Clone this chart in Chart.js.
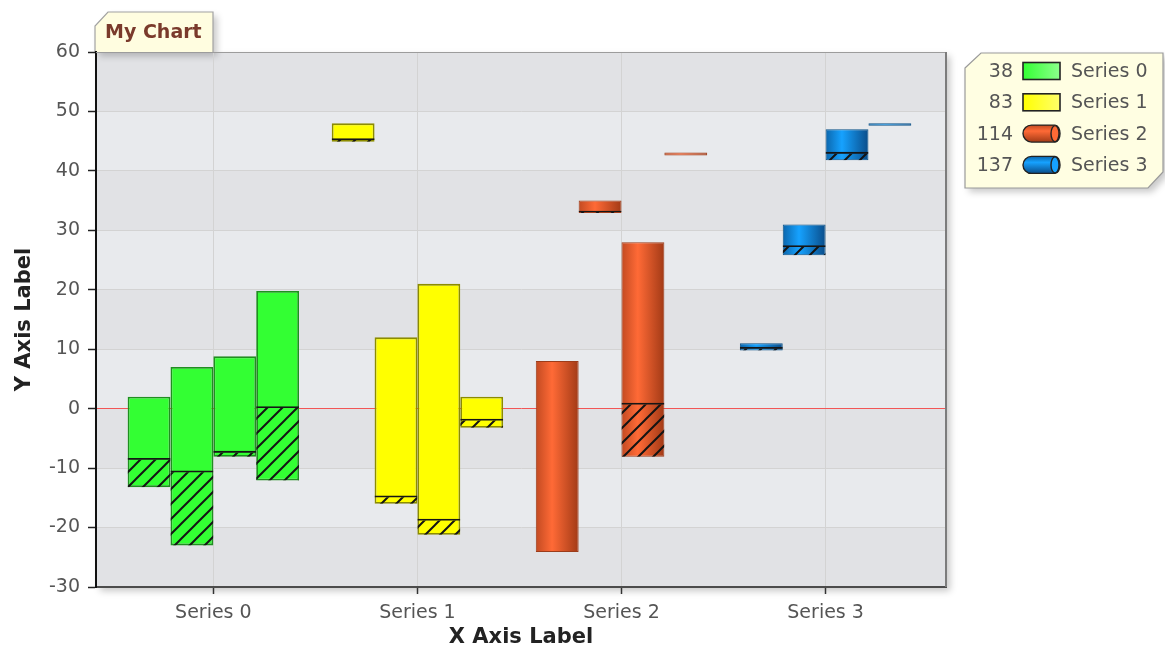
<!DOCTYPE html>
<html>
<head>
<meta charset="utf-8">
<title>My Chart</title>
<script src="https://cdn.jsdelivr.net/npm/chart.js@4/dist/chart.umd.min.js"></script>
<style>
  html, body { margin: 0; padding: 0; background: #ffffff; }
  #wrap { position: relative; width: 1165px; height: 645px; }
</style>
</head>
<body>
<div id="wrap"><canvas id="chart" width="1165" height="645"></canvas></div>
<script>
// ---- data -------------------------------------------------------------
const categories = ['Series 0', 'Series 1', 'Series 2', 'Series 3'];
// four elements per series: where each range starts, where it ends,
// and how far the completed (hatched) part reaches from the start
const rangeStart = [
  [-13.2, -23.0, -8.1, -12.1],
  [44.9, -16.0, -21.2, -3.2],
  [-24.1, 32.9, -8.1, 42.6],
  [9.8, 25.8, 41.8, 47.6]
];
const rangeEnd = [
  [2, 7, 8.8, 19.8],
  [48, 12, 21, 2],
  [8, 35, 28, 43.1],
  [11, 31, 47, 48]
];
const completeTo = [
  [-8.3, -10.4, -7.1, 0.4],
  [45.5, -14.6, -18.5, -1.7],
  [null, 33.3, 1.0, null],
  [10.4, 27.5, 43.2, null]
];
const yMin = -30, yMax = 60, yStep = 10;

// ---- look -------------------------------------------------------------
const seriesFill = ['#33ff33', '#ffff00', '#ff6633', '#0099ff'];
const seriesEdge = ['#1f8f1f', '#8c8c00', '#9c3c1a', '#0b5288'];
const cylinderStops = [null, null, ['#c24a22', '#ff6a36', '#a23a16'], ['#0b66ac', '#16a2ff', '#0a4d8a']];
const FONT = "'DejaVu Sans', Verdana, sans-serif";

Chart.defaults.font.family = FONT;
Chart.defaults.font.size = 19;
Chart.defaults.color = '#555555';

const canvas = document.getElementById('chart');
const mainCtx = canvas.getContext('2d');

// diagonal hatch used for the completed part of each range
const hatch = (() => {
  const s = 15;
  const c = document.createElement('canvas');
  c.width = s; c.height = s;
  const g = c.getContext('2d');
  g.strokeStyle = '#141414';
  g.lineWidth = 2;
  g.beginPath();
  g.moveTo(0, s); g.lineTo(s, 0);
  g.moveTo(-3, 3); g.lineTo(3, -3);
  g.moveTo(s - 3, s + 3); g.lineTo(s + 3, s - 3);
  g.stroke();
  return mainCtx.createPattern(c, 'repeat');
})();

// ---- datasets: one slot per element, range bar + hatched overlay -------
const slots = [0, 1, 2, 3];
const datasets = [];
slots.forEach(j => {
  datasets.push({
    label: 'Element ' + j,
    role: 'range',
    stack: 'slot' + j,
    order: 2,
    data: categories.map((c, i) => ({ x: i, y: [rangeStart[i][j], rangeEnd[i][j]] })),
    backgroundColor: seriesFill,
    borderColor: seriesEdge,
    borderWidth: categories.map((c, i) => cylinderStops[i] ? 1 : 1.8),
    borderSkipped: false
  });
});
slots.forEach(j => {
  datasets.push({
    label: 'Complete ' + j,
    role: 'complete',
    stack: 'slot' + j,
    order: 1,
    data: categories.map((c, i) => ({
      x: i,
      y: completeTo[i][j] == null ? null : [rangeStart[i][j], completeTo[i][j]]
    })),
    backgroundColor: hatch,
    borderColor: '#161616',
    borderWidth: { top: 1.8, left: 0, right: 0, bottom: 0 },
    borderSkipped: false
  });
});

// ---- plugins ------------------------------------------------------------
function shadowed(ctx, fn) {
  ctx.save();
  ctx.shadowColor = 'rgba(0,0,0,0.22)';
  ctx.shadowBlur = 7;
  ctx.shadowOffsetX = 4;
  ctx.shadowOffsetY = 4;
  fn();
  ctx.restore();
}

const plotFrame = {
  id: 'plotFrame',
  beforeDraw(chart) {
    const { ctx, chartArea: a } = chart;
    // plot background with soft drop shadow
    shadowed(ctx, () => {
      ctx.fillStyle = '#e5e7ea';
      ctx.fillRect(a.left, a.top, a.right - a.left, a.bottom - a.top);
    });
    // alternating horizontal bands between y ticks
    const ys = chart.scales.y;
    const t = ys.ticks;
    for (let k = 0; k < t.length - 1; k++) {
      const p0 = ys.getPixelForValue(t[k].value);
      const p1 = ys.getPixelForValue(t[k + 1].value);
      ctx.fillStyle = ((t.length - 2 - k) % 2 === 0) ? '#e1e2e5' : '#e8eaed';
      ctx.fillRect(a.left, p1, a.right - a.left, p0 - p1);
    }
    // title tab
    const tx0 = a.left - 1, tx1 = a.left + 117, ty0 = 12, ty1 = a.top;
    const tab = new Path2D();
    tab.moveTo(tx0, ty1);
    tab.lineTo(tx0, ty0 + 14);
    tab.lineTo(tx0 + 13, ty0);
    tab.lineTo(tx1, ty0);
    tab.lineTo(tx1, ty1);
    shadowed(ctx, () => {
      ctx.fillStyle = '#fffde0';
      ctx.fill(tab);
    });
    ctx.save();
    ctx.strokeStyle = '#a2a2a2';
    ctx.lineWidth = 1.2;
    ctx.stroke(tab);
    ctx.fillStyle = '#7a3a2b';
    ctx.font = 'bold 19px ' + FONT;
    ctx.textBaseline = 'middle';
    ctx.textAlign = 'left';
    ctx.fillText('My Chart', tx0 + 10, ty0 + 21);
    ctx.restore();
  },
  afterDatasetsDraw(chart) {
    const { ctx, chartArea: a } = chart;
    ctx.save();
    ctx.strokeStyle = '#9c9c9c';
    ctx.lineWidth = 1;
    ctx.beginPath();
    ctx.moveTo(a.left, a.top + 0.5);
    ctx.lineTo(a.right, a.top + 0.5);
    ctx.stroke();
    ctx.strokeStyle = '#7c7c7c';
    ctx.lineWidth = 2;
    ctx.beginPath();
    ctx.moveTo(a.right, a.top);
    ctx.lineTo(a.right, a.bottom);
    ctx.stroke();
    ctx.restore();
  }
};

// horizontal cylinder shading for the round-looking series
const cylinderShade = {
  id: 'cylinderShade',
  beforeDatasetsDraw(chart) {
    const ctx = chart.ctx;
    chart.data.datasets.forEach((ds, di) => {
      if (ds.role !== 'range') return;
      chart.getDatasetMeta(di).data.forEach((el, i) => {
        const stops = cylinderStops[i];
        if (!stops || !isFinite(el.x) || !isFinite(el.width)) return;
        const g = ctx.createLinearGradient(el.x - el.width / 2, 0, el.x + el.width / 2, 0);
        g.addColorStop(0, stops[0]);
        g.addColorStop(0.38, stops[1]);
        g.addColorStop(1, stops[2]);
        el.options = Object.assign({}, el.options, { backgroundColor: g });
      });
    });
  }
};

// legend box: total per series, swatch, name
const seriesLegend = {
  id: 'seriesLegend',
  afterDraw(chart) {
    const ctx = chart.ctx;
    const x0 = 965, x1 = 1163, y0 = 53, y1 = 188;
    const box = new Path2D();
    box.moveTo(x0, y0 + 15);
    box.lineTo(x0 + 16, y0);
    box.lineTo(x1, y0);
    box.lineTo(x1, y1 - 16);
    box.lineTo(x1 - 15, y1);
    box.lineTo(x0, y1);
    box.closePath();
    shadowed(ctx, () => {
      ctx.fillStyle = '#fffee2';
      ctx.fill(box);
    });
    ctx.save();
    ctx.strokeStyle = '#9a9a9a';
    ctx.lineWidth = 1.2;
    ctx.stroke(box);
    ctx.font = '19px ' + FONT;
    ctx.textBaseline = 'middle';
    categories.forEach((name, i) => {
      const cy = 71 + i * 31.3;
      const total = Math.round(rangeEnd[i].reduce((s, v) => s + v, 0));
      ctx.fillStyle = '#555555';
      ctx.textAlign = 'right';
      ctx.fillText(String(total), 1013, cy + 1);
      ctx.textAlign = 'left';
      ctx.fillText(name, 1071, cy + 1);
      const sx = 1023, sw = 37, sh = 17, sy = cy - sh / 2;
      if (cylinderStops[i]) {
        const st = cylinderStops[i];
        const g = ctx.createLinearGradient(0, sy, 0, sy + sh);
        g.addColorStop(0, st[0]);
        g.addColorStop(0.35, st[1]);
        g.addColorStop(1, st[2]);
        const r = sh / 2;
        ctx.beginPath();
        ctx.moveTo(sx + r, sy);
        ctx.lineTo(sx + sw - 5, sy);
        ctx.ellipse(sx + sw - 5, cy, 5, r, 0, -Math.PI / 2, Math.PI / 2);
        ctx.lineTo(sx + r, sy + sh);
        ctx.arc(sx + r, cy, r, Math.PI / 2, Math.PI * 1.5);
        ctx.closePath();
        ctx.fillStyle = g;
        ctx.fill();
        ctx.strokeStyle = '#222';
        ctx.lineWidth = 1.4;
        ctx.stroke();
        ctx.beginPath();
        ctx.ellipse(sx + sw - 5, cy, 4, r - 0.5, 0, 0, Math.PI * 2);
        ctx.fillStyle = st[1];
        ctx.fill();
        ctx.stroke();
      } else {
        const g = ctx.createLinearGradient(sx, 0, sx + sw, 0);
        g.addColorStop(0, seriesFill[i]);
        g.addColorStop(1, i === 0 ? '#8cff8c' : '#ffff6a');
        ctx.fillStyle = g;
        ctx.fillRect(sx, sy, sw, sh);
        ctx.strokeStyle = '#222';
        ctx.lineWidth = 1.6;
        ctx.strokeRect(sx, sy, sw, sh);
      }
    });
    ctx.restore();
  }
};

// ---- chart --------------------------------------------------------------
new Chart(canvas, {
  type: 'bar',
  data: { datasets },
  options: {
    responsive: false,
    devicePixelRatio: 1,
    animation: false,
    layout: { padding: { top: 52, right: 219, bottom: 0, left: 0 } },
    datasets: { bar: { categoryPercentage: 0.84, barPercentage: 1 } },
    plugins: {
      legend: { display: false },
      tooltip: { enabled: false },
      title: { display: false }
    },
    scales: {
      x: {
        type: 'linear',
        min: -0.575,
        max: 3.59,
        offset: false,
        afterBuildTicks: s => { s.ticks = categories.map((c, i) => ({ value: i })); },
        afterFit: s => { s.height = 58; },
        grid: { offset: false, color: '#d3d3d3', lineWidth: 1, tickLength: 7, tickColor: '#333333', tickWidth: 1.5 },
        border: { color: '#4c4c4c', width: 2 },
        ticks: {
          callback: v => categories[v],
          padding: 8,
          color: '#555555',
          autoSkip: false,
          maxRotation: 0,
          font: { size: 19 }
        },
        title: {
          display: true,
          text: 'X Axis Label',
          color: '#222222',
          font: { size: 21, weight: 'bold', lineHeight: 0.75 },
          padding: { top: 0, bottom: 0 }
        }
      },
      y: {
        type: 'linear',
        min: yMin,
        max: yMax,
        stacked: false,
        afterFit: s => { s.width = 96; },
        grid: {
          color: c => (c.tick && c.tick.value === 0) ? '#f25656' : '#d3d3d3',
          lineWidth: 1,
          tickLength: 8,
          tickColor: '#222222',
          tickWidth: 1.5
        },
        border: { color: '#111111', width: 2 },
        ticks: { stepSize: yStep, padding: 8, color: '#555555', font: { size: 19 } },
        title: {
          display: true,
          text: 'Y Axis Label',
          color: '#222222',
          font: { size: 21, weight: 'bold', lineHeight: 1 },
          padding: { top: 14, bottom: 0 }
        }
      }
    }
  },
  plugins: [plotFrame, cylinderShade, seriesLegend]
});
</script>
</body>
</html>
